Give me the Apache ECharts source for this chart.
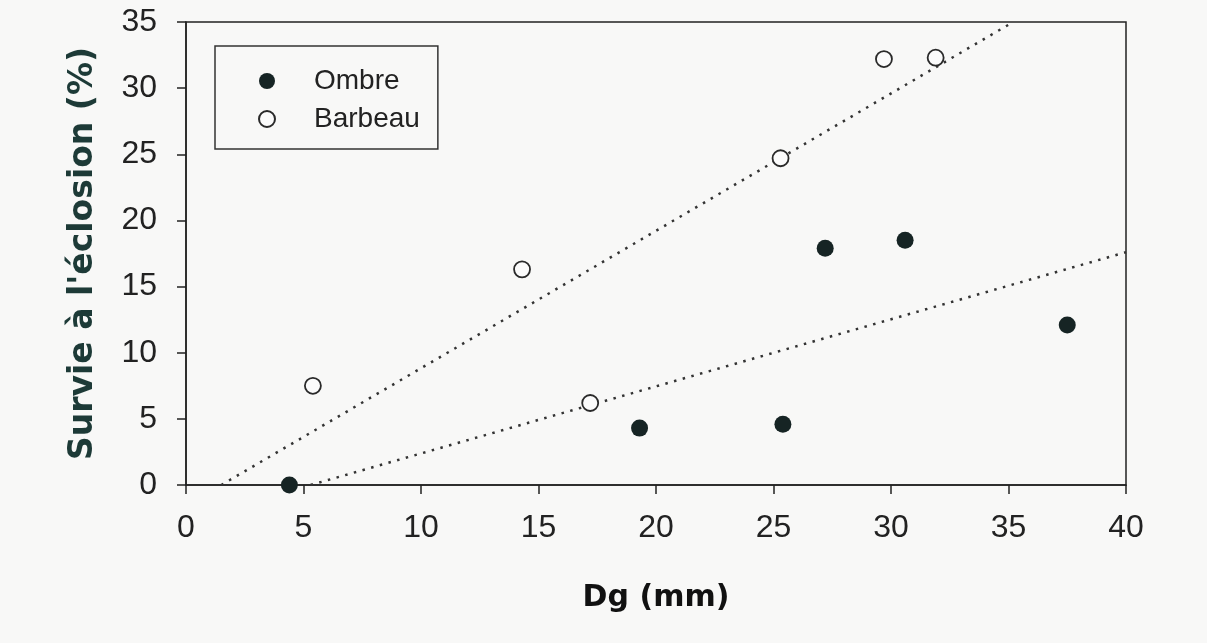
<!DOCTYPE html>
<html>
<head>
<meta charset="utf-8">
<script src="https://cdn.jsdelivr.net/npm/echarts@6/dist/echarts.min.js"></script>
<style>
html,body{margin:0;padding:0;background:#f8f8f7;}
#chart{width:1207px;height:643px;}
</style>
</head>
<body>
<div id="chart"></div>
<script>
// Data
const ombreX = [4.4, 19.3, 25.4, 27.2, 30.6, 37.5];
const ombreY = [0.0, 4.3, 4.6, 17.9, 18.5, 12.1];
const barbeauX = [5.4, 14.3, 17.2, 25.3, 29.7, 31.9];
const barbeauY = [7.5, 16.3, 6.2, 24.7, 32.2, 32.3];
// trend line end points
const ombreTrendX = [5.3, 40];
const ombreTrendY = [0, 17.6];
const barbeauTrendX = [1.5, 35.2];
const barbeauTrendY = [0, 35];
const xTicks = {min: 0, max: 40, step: 5};
const yTicks = {min: 0, max: 35, step: 5};

const zip = (a, b) => a.map((v, i) => [v, b[i]]);

const chart = echarts.init(document.getElementById('chart'), null, {renderer: 'canvas'});
const tickFont = {fontFamily: '"Liberation Sans", Arial, sans-serif', fontSize: 32, color: '#222'};

chart.setOption({
  backgroundColor: '#f8f8f7',
  animation: false,
  grid: {left: 186, right: 81, top: 22, bottom: 158, show: true, borderColor: '#222', borderWidth: 1.5, backgroundColor: 'transparent'},
  legend: {
    left: 215, top: 46,
    orient: 'vertical',
    data: ['Ombre', 'Barbeau'],
    backgroundColor: 'transparent',
    borderColor: '#333', borderWidth: 1.5,
    padding: [21, 18, 16, 43],
    itemWidth: 16, itemHeight: 16, itemGap: 10,
    textStyle: {fontFamily: '"Liberation Sans", Arial, sans-serif', fontSize: 28, color: '#222', padding: [0, 0, 0, 34]}
  },
  xAxis: {
    type: 'value', min: xTicks.min, max: xTicks.max, interval: xTicks.step,
    name: 'Dg (mm)', nameLocation: 'middle', nameGap: 98,
    nameTextStyle: {color: '#111', fontFamily: '"DejaVu Sans", sans-serif', fontWeight: 'bold', fontSize: 30},
    axisLine: {show: true, onZero: false, lineStyle: {color: '#222', width: 1.5}},
    axisTick: {show: true, inside: false, length: 9, lineStyle: {color: '#222', width: 1.5}},
    axisLabel: Object.assign({margin: 27}, tickFont),
    splitLine: {show: false}
  },
  yAxis: {
    type: 'value', min: yTicks.min, max: yTicks.max, interval: yTicks.step,
    name: 'Survie à l\'éclosion (%)', nameLocation: 'middle', nameGap: 86,
    nameTextStyle: {color: '#1d3a37', fontFamily: '"DejaVu Sans", sans-serif', fontWeight: 'bold', fontSize: 33},
    axisLine: {show: true, onZero: false, lineStyle: {color: '#222', width: 1.5}},
    axisTick: {show: true, inside: false, length: 9, lineStyle: {color: '#222', width: 1.5}},
    axisLabel: Object.assign({margin: 29}, tickFont),
    splitLine: {show: false}
  },
  series: [
    {
      name: 'Ombre', type: 'scatter', symbol: 'circle', symbolSize: 17, z: 5,
      itemStyle: {color: '#162424', opacity: 1},
      data: zip(ombreX, ombreY)
    },
    {
      name: 'Barbeau', type: 'scatter', symbol: 'circle', symbolSize: 16, z: 5,
      itemStyle: {color: '#fbfbfb', borderColor: '#2a2a2a', borderWidth: 1.8, opacity: 1},
      data: zip(barbeauX, barbeauY)
    },
    {
      name: 'trendOmbre', type: 'line', showSymbol: false, symbol: 'none', z: 3,
      lineStyle: {color: '#333', width: 2.5, type: [2.5, 6.5]},
      data: zip(ombreTrendX, ombreTrendY), silent: true
    },
    {
      name: 'trendBarbeau', type: 'line', showSymbol: false, symbol: 'none', z: 3,
      lineStyle: {color: '#333', width: 2.5, type: [2.5, 6.5]},
      data: zip(barbeauTrendX, barbeauTrendY), silent: true
    }
  ]
});
</script>
</body>
</html>
